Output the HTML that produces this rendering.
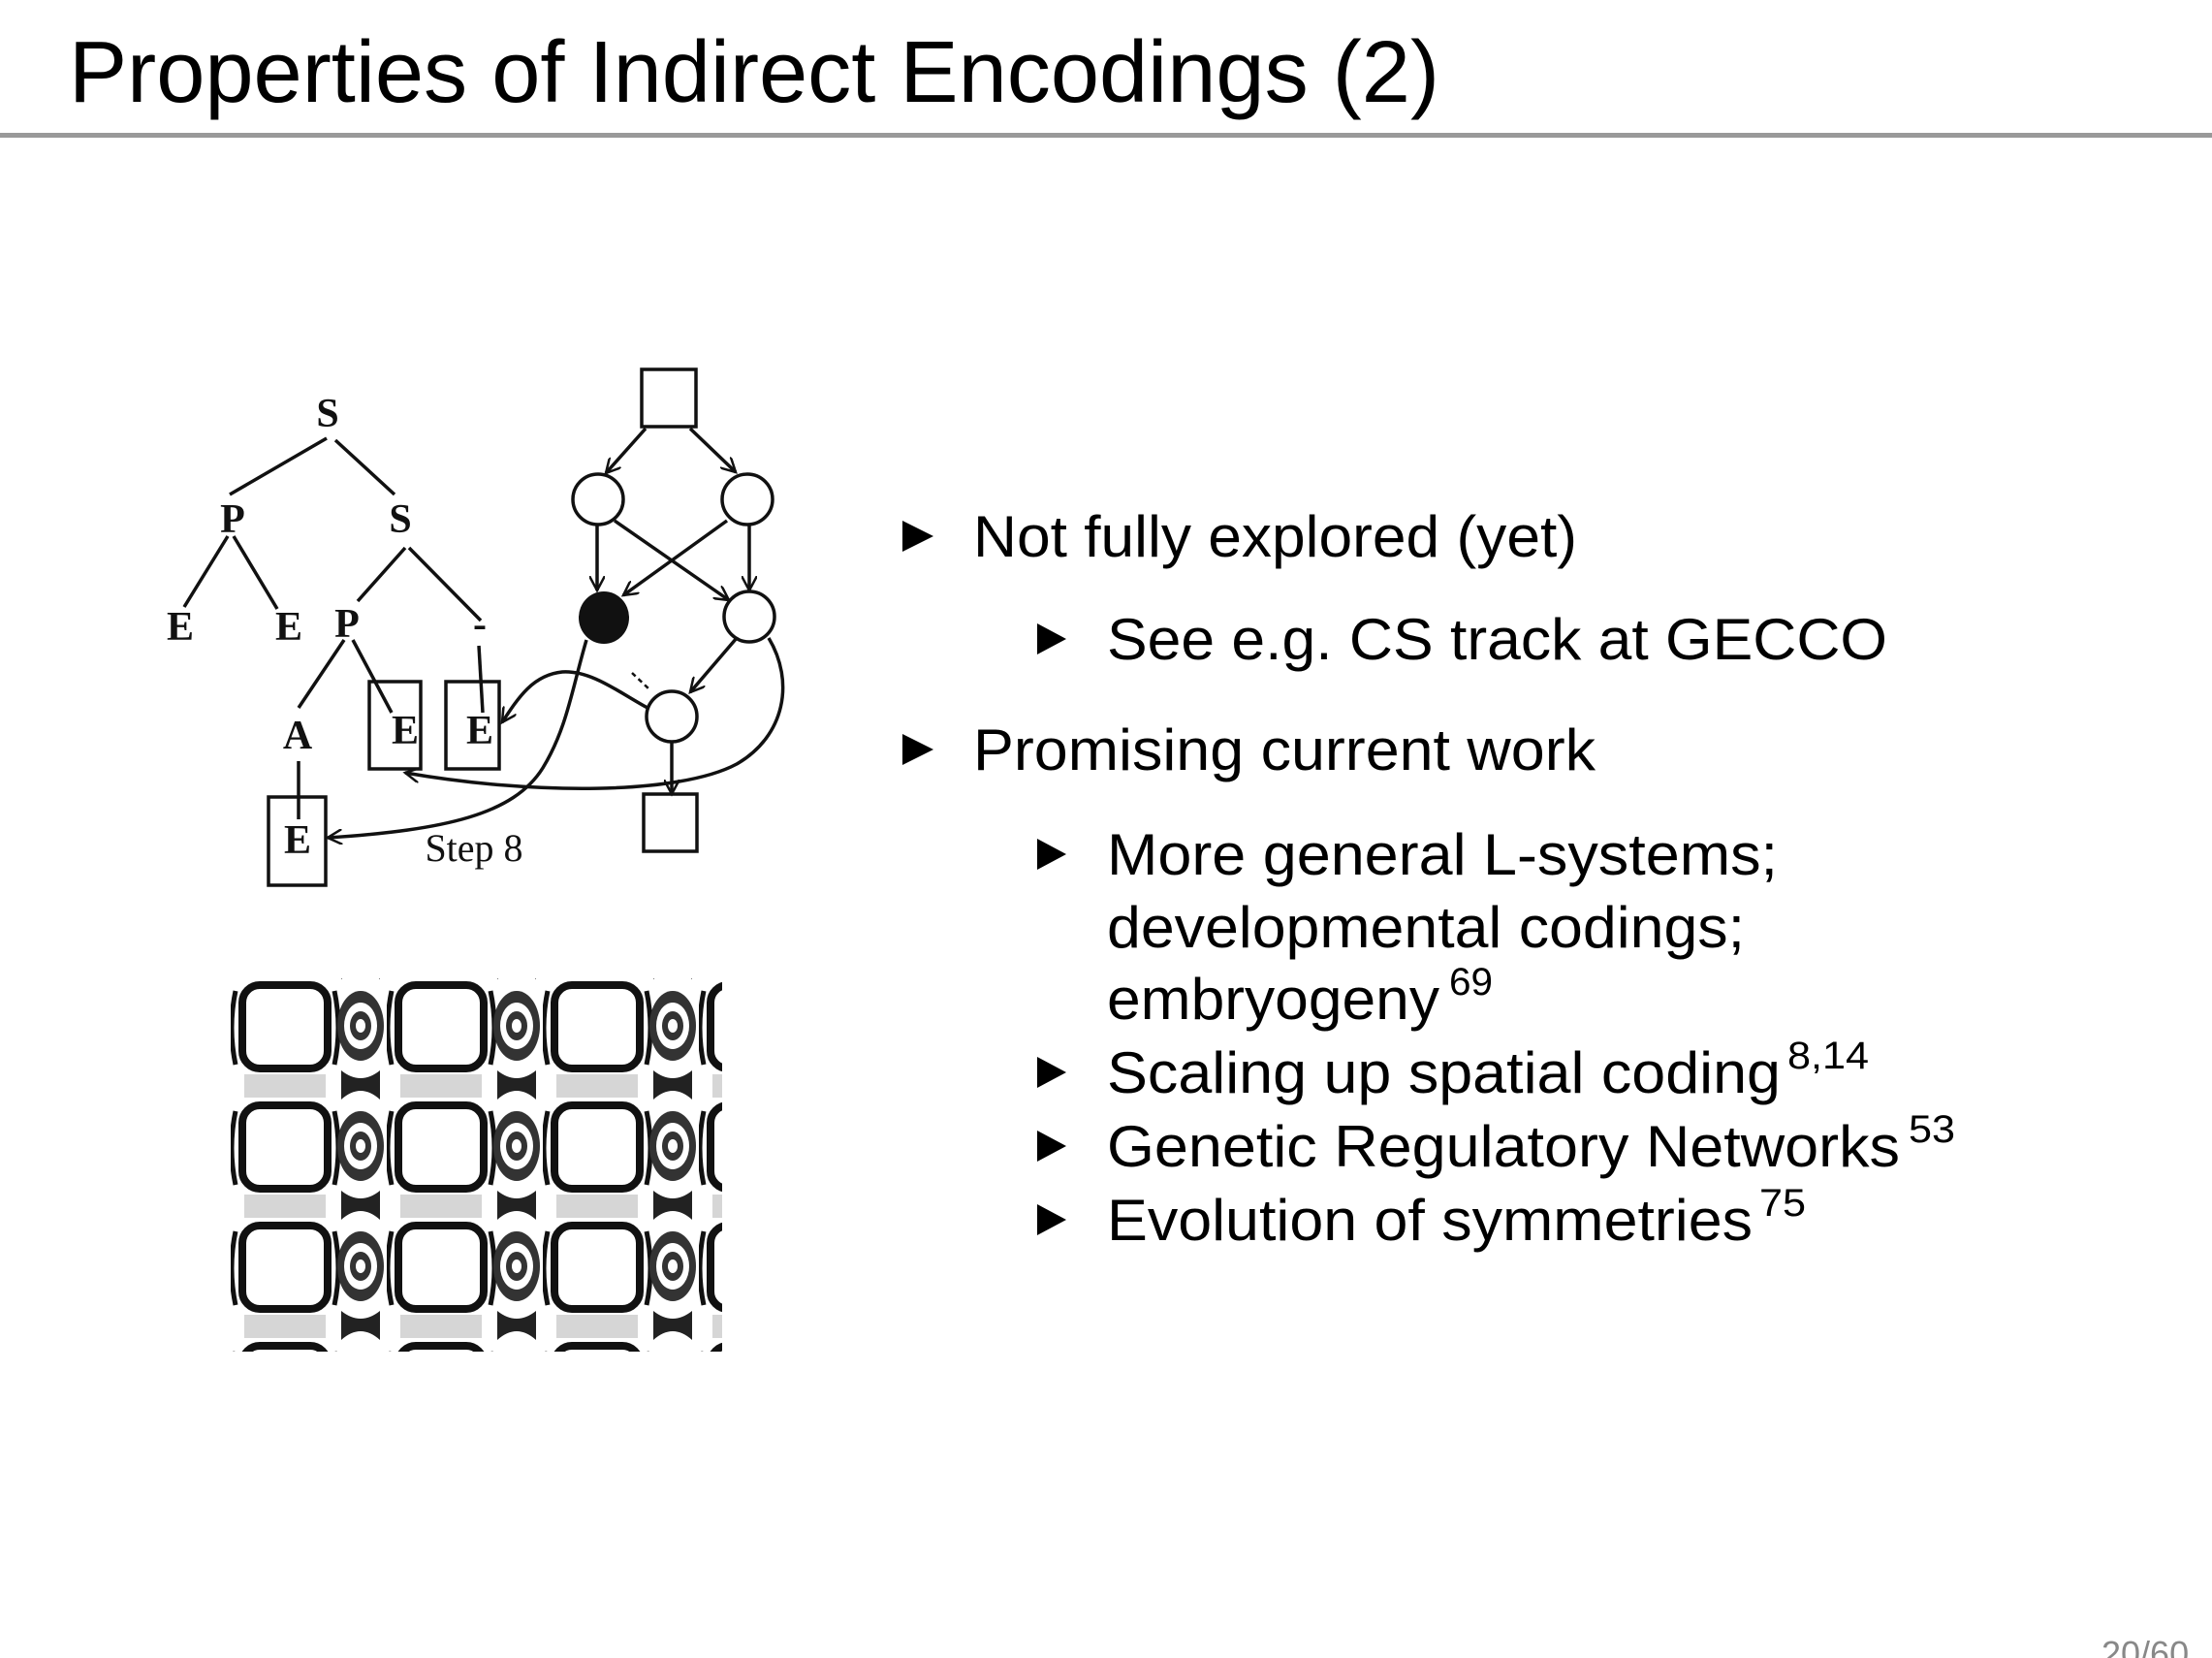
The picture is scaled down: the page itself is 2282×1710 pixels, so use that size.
<!DOCTYPE html>
<html><head><meta charset="utf-8"><style>
html,body{margin:0;padding:0;background:#fff;}
svg{display:block;}
</style></head><body>
<svg width="2282" height="1710" viewBox="0 0 2282 1710" xmlns="http://www.w3.org/2000/svg">
<defs>
<marker id="ah" markerWidth="18" markerHeight="16" refX="15" refY="8" orient="auto" markerUnits="userSpaceOnUse">
<path d="M0,0 L15,8 L0,16" fill="none" stroke="#111" stroke-width="2.5"/>
</marker>
<pattern id="pat" x="238" y="1012" width="161" height="124" patternUnits="userSpaceOnUse">
<rect width="161" height="124" fill="#fff"/>
<rect x="12" y="4" width="88" height="86" rx="18" fill="#fff" stroke="#111" stroke-width="8"/>
<rect x="14" y="96" width="84" height="24" fill="#bbb" opacity="0.6"/>
<path d="M5,10 Q-3,48 5,86 M107,10 Q115,48 107,86" stroke="#111" stroke-width="5" fill="none"/>
<ellipse cx="134" cy="46" rx="24" ry="36" fill="#333"/>
<ellipse cx="134" cy="46" rx="17" ry="24" fill="#fff"/>
<ellipse cx="134" cy="46" rx="11" ry="15" fill="#333"/>
<ellipse cx="134" cy="46" rx="5" ry="7" fill="#fff"/>
<path d="M114,92 Q134,108 154,92 L154,122 Q134,104 114,122 Z" fill="#222"/>
</pattern>
</defs>

<text x="71" y="105" font-family="Liberation Sans, sans-serif" font-size="90" fill="#000" textLength="1414" lengthAdjust="spacingAndGlyphs">Properties of Indirect Encodings (2)</text>
<rect x="0" y="137" width="2282" height="5" fill="#999"/>

<!-- tree -->
<g font-family="Liberation Serif, serif" font-size="42" font-weight="bold" fill="#111" text-anchor="middle">
<text x="338" y="440">S</text>
<text x="240" y="549">P</text>
<text x="413" y="549">S</text>
<text x="186" y="660">E</text>
<text x="298" y="660">E</text>
<text x="358" y="657">P</text>
<text x="495" y="657">-</text>
<text x="307" y="772">A</text>
<text x="418" y="767">E</text>
<text x="495" y="767">E</text>
<text x="307" y="880">E</text>
<text x="489" y="888" font-size="40" font-weight="normal">Step 8</text>
</g>
<g stroke="#111" stroke-width="3.5" fill="none">
<line x1="337" y1="452" x2="237" y2="510"/>
<line x1="346" y1="454" x2="407" y2="510"/>
<line x1="235" y1="553" x2="190" y2="626"/>
<line x1="241" y1="553" x2="286" y2="628"/>
<line x1="418" y1="565" x2="369" y2="620"/>
<line x1="422" y1="565" x2="496" y2="640"/>
<line x1="355" y1="660" x2="308" y2="730"/>
<line x1="364" y1="660" x2="404" y2="735"/>
<line x1="494" y1="666" x2="498" y2="735"/>
<line x1="308" y1="785" x2="308" y2="845"/>
<rect x="381" y="703" width="53" height="90"/>
<rect x="460" y="703" width="55" height="90"/>
<rect x="277" y="822" width="59" height="91"/>
<rect x="662" y="381" width="56" height="59"/>
<rect x="664" y="819" width="55" height="59"/>
<circle cx="617" cy="515" r="26"/>
<circle cx="771" cy="515" r="26"/>
<circle cx="773" cy="636" r="26"/>
<circle cx="693" cy="739" r="26"/>
</g>
<ellipse cx="623" cy="637" rx="26" ry="27" fill="#111"/>
<g stroke="#111" stroke-width="3.5" fill="none" marker-end="url(#ah)">
<line x1="666" y1="442" x2="625" y2="488"/>
<line x1="712" y1="442" x2="759" y2="487"/>
<line x1="616" y1="541" x2="616" y2="609"/>
<line x1="634" y1="537" x2="752" y2="619"/>
<line x1="750" y1="537" x2="643" y2="614"/>
<line x1="773" y1="541" x2="773" y2="609"/>
<line x1="760" y1="658" x2="712" y2="714"/>
<line x1="693" y1="765" x2="693" y2="819"/>
<path d="M605,660 C590,711 585,751 560,792 C530,840 460,856 338,864"/>
<path d="M668,730 C640,715 610,691 580,693 C550,696 535,719 518,745"/>
<path d="M793,658 C820,703 810,759 760,788 C700,820 550,820 418,797"/>
</g>
<line x1="652" y1="694" x2="670" y2="711" stroke="#111" stroke-width="2.5" stroke-dasharray="5,4"/>

<!-- pattern image -->
<rect x="235" y="1009" width="510" height="385" fill="url(#pat)"/>

<!-- bullets -->
<g fill="#000">
<polygon points="931,537 963,553 931,569"/>
<polygon points="1070,643 1100,659 1070,675"/>
<polygon points="931,757 963,773 931,789"/>
<polygon points="1070,865 1100,881 1070,897"/>
<polygon points="1070,1090 1100,1106 1070,1122"/>
<polygon points="1070,1166 1100,1182 1070,1198"/>
<polygon points="1070,1242 1100,1258 1070,1274"/>
</g>
<g font-family="Liberation Sans, sans-serif" font-size="60" fill="#000">
<text x="1004" y="574" textLength="623" lengthAdjust="spacingAndGlyphs">Not fully explored (yet)</text>
<text x="1142" y="680" textLength="805" lengthAdjust="spacingAndGlyphs">See e.g. CS track at GECCO</text>
<text x="1004" y="794" textLength="642" lengthAdjust="spacingAndGlyphs">Promising current work</text>
<text x="1142" y="902" textLength="692" lengthAdjust="spacingAndGlyphs">More general L-systems;</text>
<text x="1142" y="977" textLength="658" lengthAdjust="spacingAndGlyphs">developmental codings;</text>
<text x="1142" y="1051" textLength="343" lengthAdjust="spacingAndGlyphs">embryogeny</text>
<text x="1142" y="1127" textLength="695" lengthAdjust="spacingAndGlyphs">Scaling up spatial coding</text>
<text x="1142" y="1203" textLength="818" lengthAdjust="spacingAndGlyphs">Genetic Regulatory Networks</text>
<text x="1142" y="1279" textLength="666" lengthAdjust="spacingAndGlyphs">Evolution of symmetries</text>
</g>
<g font-family="Liberation Sans, sans-serif" font-size="40" fill="#000">
<text x="1495" y="1026" textLength="45" lengthAdjust="spacingAndGlyphs">69</text>
<text x="1844" y="1102" textLength="84" lengthAdjust="spacingAndGlyphs">8,14</text>
<text x="1969" y="1178" textLength="48" lengthAdjust="spacingAndGlyphs">53</text>
<text x="1815" y="1254" textLength="48" lengthAdjust="spacingAndGlyphs">75</text>
</g>
<text x="2168" y="1718" font-family="Liberation Sans, sans-serif" font-size="36" fill="#888">20/60</text>
</svg>
</body></html>
